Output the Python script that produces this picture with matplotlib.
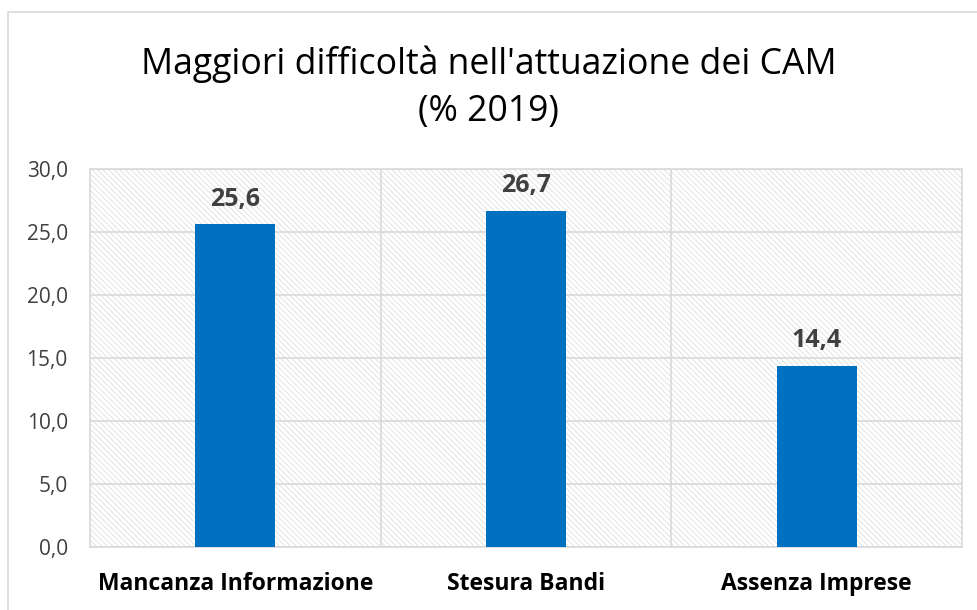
import matplotlib.pyplot as plt
from matplotlib.patches import Rectangle
from matplotlib.ticker import FuncFormatter

# Maggiori difficoltà nell'attuazione dei CAM (% 2019)
categories = ['Mancanza Informazione', 'Stesura Bandi', 'Assenza Imprese']
values = [25.6, 26.7, 14.4]
yticks = [0, 5, 10, 15, 20, 25, 30]

plt.rcParams['font.family'] = ['Open Sans', 'DejaVu Sans']
plt.rcParams['hatch.linewidth'] = 0.5

fig = plt.figure(figsize=(9.77, 6.10), dpi=100)
ax = fig.add_axes([90 / 977, 1 - 547 / 610, (962 - 90) / 977, (547 - 169) / 610])

# chart border
fig.patches.append(Rectangle((8 / 977, -0.01), 1.0, 1 - 12 / 610 + 0.01, transform=fig.transFigure,
                             fill=False, edgecolor='#d9d9d9', linewidth=1.2))

# hatched plot area
ax.add_patch(Rectangle((0, 0), 1, 1, transform=ax.transAxes, facecolor='white',
                       edgecolor='#d8d8d8', hatch='\\\\\\\\\\\\', linewidth=0, zorder=0))

x = range(len(categories))
bars = ax.bar(x, values, width=0.275, color='#0070c0', zorder=3)

for xi, v in zip(x, values):
    ax.text(xi, v + 1.0, f'{v:.1f}'.replace('.', ','), ha='center', va='bottom',
            fontsize=18, fontweight='bold', color='#404040')

ax.set_xlim(-0.5, 2.5)
ax.set_ylim(0, 30)
ax.set_yticks(yticks)
ax.yaxis.set_major_formatter(FuncFormatter(lambda v, p: f'{v:.1f}'.replace('.', ',')))
ax.set_xticks(list(x))
ax.set_xticklabels(categories, fontsize=16.5, fontweight='bold', color='black')
ax.tick_params(axis='y', labelsize=15, labelcolor='#404040', length=0, pad=16)
ax.tick_params(axis='x', length=0, pad=18)

ax.grid(axis='y', color='#d9d9d9', linewidth=1.2, zorder=1)
for b in [0.5, 1.5]:
    ax.axvline(b, color='#d9d9d9', linewidth=1.2, zorder=1)
for s in ax.spines.values():
    s.set_color('#d9d9d9')
    s.set_linewidth(1.2)

fig.text(0.5, 1 - 64 / 610, "Maggiori difficoltà nell'attuazione dei CAM", ha='center', va='center',
         fontsize=25.7, color='black')
fig.text(0.5, 1 - 112 / 610, '(% 2019)', ha='center', va='center', fontsize=25.7, color='black')

fig.savefig('out.png', dpi=100)
